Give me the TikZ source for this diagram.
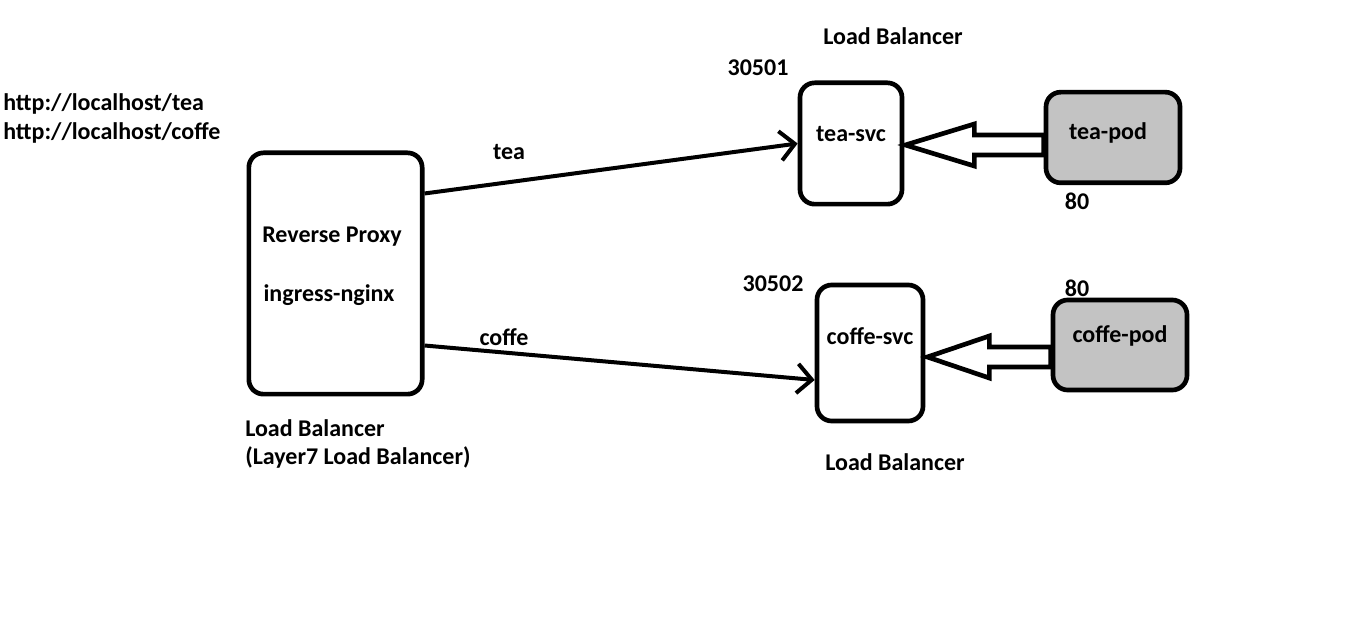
\documentclass[tikz,border=0pt]{standalone}
\usepackage{fontspec}
\setmainfont{Carlito}
\usetikzlibrary{arrows.meta,calc}
\definecolor{podgray}{RGB}{195,195,195}
\tikzset{
    box/.style={draw, line width=3.5pt, rounded corners=11pt, inner sep=0pt},
    txt/.style={font=\fontsize{18}{22}\selectfont\bfseries, inner sep=0pt},
    link/.style={line width=3pt, -{Straight Barb[length=11pt, width=22pt, line width=3pt]}},
    blockarrow/.style={draw, line width=3.5pt, fill=white, line join=miter}
}
\begin{document}
\begin{tikzpicture}[x=0.75pt, y=-0.75pt]
        \useasboundingbox (0, 0) rectangle (1360, 623);
        \node[box, minimum width=130pt, minimum height=181pt] (proxy) at (335.5, 273.5) {};
        \node[box, minimum width=76.5pt, minimum height=91pt, label={[txt, yshift=7pt]center:tea-svc}] (teasvc) at (851, 143.5) {};
        \node[box, fill=podgray, minimum width=100.5pt, minimum height=68pt] (teapod) at (1113, 137.5) {};
        \node[box, minimum width=79.5pt, minimum height=102pt, label={[txt, yshift=13pt]center:coffe-svc}] (coffesvc) at (870, 353) {};
        \node[box, fill=podgray, minimum width=100.5pt, minimum height=67.5pt, label={[txt, yshift=7pt]center:coffe-pod}] (coffepod) at (1120, 345) {};
        \node[txt] (teapodtxt) at (1108, 133) {tea-pod};
        \node[txt] (rproxy) at (332, 237) {Reverse Proxy};
        \node[txt] (nginx) at (329, 295) {ingress-nginx};
        \node[txt, anchor=west] (urltea) at (3, 104) {http://localhost/tea};
        \node[txt, anchor=west] (urlcoffe) at (3, 133) {http://localhost/coffe};
        \node[txt, anchor=west] (lbproxy) at (245, 428) {Load Balancer};
        \node[txt, anchor=west] (layer7) at (245, 457) {(Layer7 Load Balancer)};
        \node[txt] (lbtea) at (893, 36) {Load Balancer};
        \node[txt] (lbcoffe) at (895, 462) {Load Balancer};
        \node[txt] (porttea) at (758, 68) {30501};
        \node[txt] (portcoffe) at (773, 284) {30502};
        \node[txt] (podtea) at (1077, 201) {80};
        \node[txt] (podcoffe) at (1077, 288) {80};
        \node[txt] (teapath) at (509, 152) {tea};
        \node[txt] (coffepath) at (504, 337) {coffe};
        \draw[link] ($(proxy.east)+(0, -80)$) -- (teasvc.west);
        \draw[link] ($(proxy.east)+(0, 72)$) -- ($(coffesvc.west)+(0, 27)$);
        \coordinate (teahead) at ($(teasvc.east)+(70, 1.5)$);
        \coordinate (coffehead) at ($(coffesvc.east)+(64, 4)$);
        \draw[blockarrow] ($(teasvc.east)+(1, 1.5)$) -- ($(teahead)+(0, -21)$) -- ($(teahead)+(0, -10)$)
            -- ($(teahead -| teapod.west)+(0, -10)$) -- ($(teahead -| teapod.west)+(0, 10)$)
            -- ($(teahead)+(0, 10)$) -- ($(teahead)+(0, 21)$) -- cycle;
        \draw[blockarrow] ($(coffesvc.east)+(2, 4)$) -- ($(coffehead)+(0, -21)$) -- ($(coffehead)+(0, -10)$)
            -- ($(coffehead -| coffepod.west)+(0, -10)$) -- ($(coffehead -| coffepod.west)+(0, 10)$)
            -- ($(coffehead)+(0, 10)$) -- ($(coffehead)+(0, 21)$) -- cycle;
\end{tikzpicture}
\end{document}
